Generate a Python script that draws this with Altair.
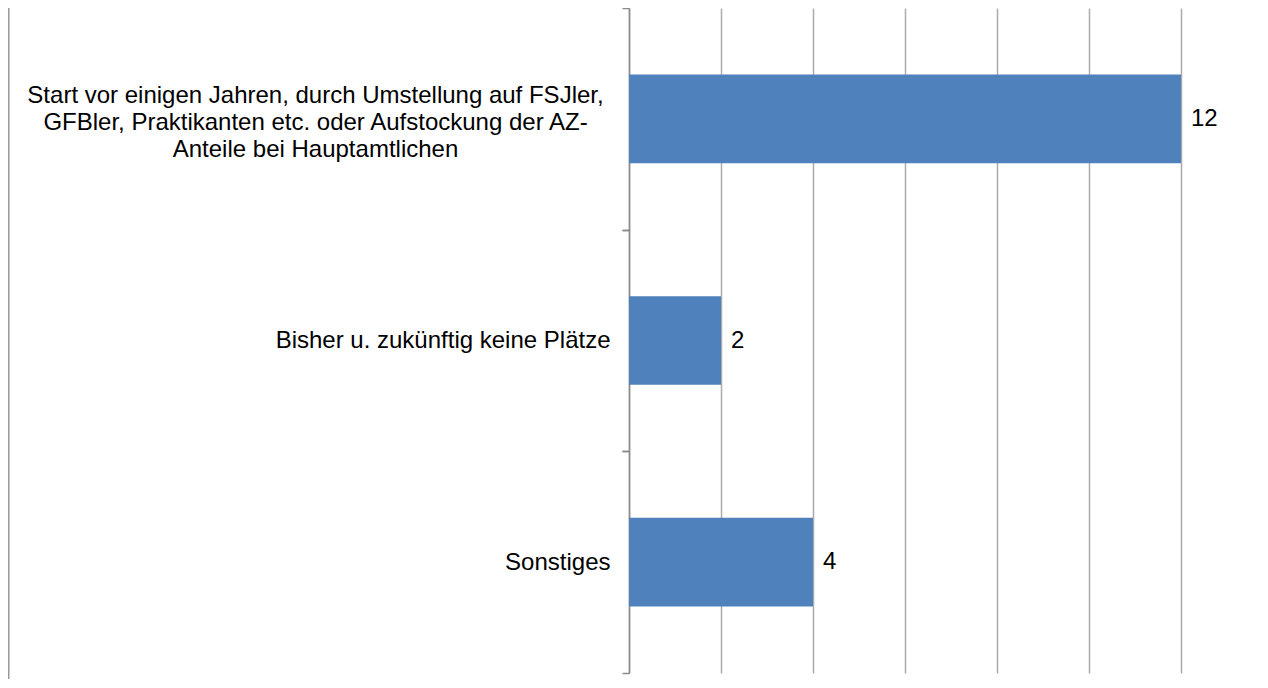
import altair as alt
import pandas as pd

categories = [
    "Start vor einigen Jahren, durch Umstellung auf FSJler,|GFBler, Praktikanten etc. oder Aufstockung der AZ-|Anteile bei Hauptamtlichen",
    "Bisher u. zukünftig keine Plätze",
    "Sonstiges",
]
values = [12, 2, 4]
grid_ticks = [0, 2, 4, 6, 8, 10, 12]

df = pd.DataFrame({"kategorie": categories, "anzahl": values})

W, H = 631, 665
STEP = H / 3.0
FONT = "Liberation Sans"
FS = 24
LH = 27

yscale = alt.Scale(domain=categories, paddingInner=0.6, paddingOuter=0.3)
xscale = alt.Scale(domain=[0, W / 46.0], nice=False, zero=True)

x_axis = alt.Axis(values=grid_ticks, labels=False, ticks=False, domain=False,
                  grid=True, gridColor="#ABABAB", gridWidth=1.5, title=None)

axis_main = alt.Axis(orient="left", title=None, domain=True, domainColor="#8A8A8A",
                     domainWidth=1.5, ticks=True, bandPosition=0,
                     tickOffset=-0.3 * STEP, labelOffset=0.3 * STEP, tickSize=7,
                     tickColor="#8A8A8A", tickWidth=1.5, labelAlign="right",
                     labelPadding=12, labelFont=FONT, labelFontSize=FS,
                     labelColor="black", labelLimit=1000, grid=False,
                     labelExpr="indexof(datum.label, '|') >= 0 ? '' : datum.label")

axis_multi = alt.Axis(orient="left", title=None, domain=False, ticks=True,
                      bandPosition=1, tickOffset=0.3 * STEP,
                      labelOffset=-0.3 * STEP - LH + 3.5,
                      tickSize=7, tickColor="#8A8A8A", tickWidth=1.5,
                      labelAlign="center", labelPadding=307, labelFont=FONT,
                      labelFontSize=FS, labelColor="black", labelLimit=1000,
                      labelLineHeight=LH, grid=False,
                      labelExpr="indexof(datum.label, '|') >= 0 ? split(datum.label, '|') : ''")

base = alt.Chart(df)

bars = base.mark_bar(color="#4F81BD").encode(
    x=alt.X("anzahl:Q", scale=xscale, axis=x_axis),
    y=alt.Y("kategorie:N", scale=yscale, sort=categories, axis=axis_main),
)

text = base.mark_text(align="left", baseline="middle", dx=10, font=FONT,
                      fontSize=FS, color="black").encode(
    x=alt.X("anzahl:Q", scale=xscale, axis=x_axis),
    y=alt.Y("kategorie:N", scale=yscale, sort=categories, axis=axis_multi),
    text="anzahl:Q",
)

frame = alt.Chart(pd.DataFrame({"f": [0]})).mark_rule(color="#9A9A9A", strokeWidth=1.5).encode(
    x=alt.value(-620.25), y=alt.value(-10), y2=alt.value(H + 10)
)

chart = alt.layer(bars, text, frame).resolve_axis(y="independent").properties(
    width=W, height=H,
    autosize=alt.AutoSizeParams(type="none"),
    padding={"left": 621, "top": 0, "right": 0, "bottom": 6},
    background="white",
).configure_view(stroke=None)

chart.save("out.html", embed_options={"renderer": "svg", "actions": False})
